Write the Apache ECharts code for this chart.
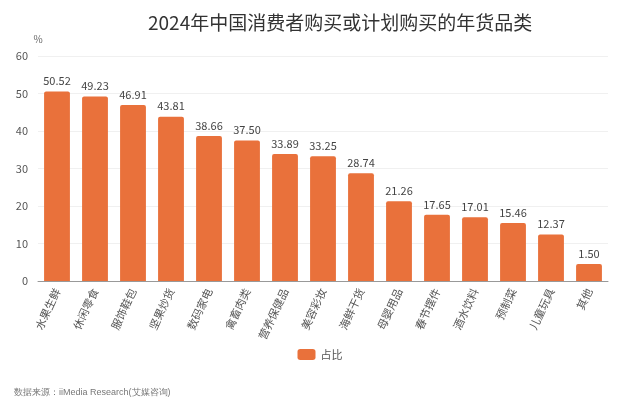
<!DOCTYPE html>
<html>
<head>
<meta charset="utf-8">
<script src="https://cdn.jsdelivr.net/npm/echarts@6/dist/echarts.min.js"></script>
<style>
html,body{margin:0;padding:0;background:#fff;}
#main{width:640px;height:406px;}
</style>
</head>
<body>
<div id="main"></div>
<script>
let categories = ['水果生鲜','休闲零食','服饰鞋包','坚果炒货','数码家电','禽畜肉类','营养保健品','美容彩妆','海鲜干货','母婴用品','春节摆件','酒水饮料','预制菜','儿童玩具','其他'];
let shares = [50.52, 49.23, 46.91, 43.81, 38.66, 37.50, 33.89, 33.25, 28.74, 21.26, 17.65, 17.01, 15.46, 12.37, 1.50];
let yTicks = [0, 10, 20, 30, 40, 50, 60];

window.addEventListener('load', function () {
    let chart = echarts.init(document.getElementById('main'));
    let option = {
        textStyle: {fontFamily: 'Noto Sans CJK SC'},
        title: {
            text: '2024年中国消费者购买或计划购买的年货品类',
            left: 143,
            top: 8,
            textStyle: {fontSize: 19, fontWeight: 'normal', color: '#333'}
        },
        legend: {
            data: ['占比'],
            left: 'center',
            top: 344,
            itemWidth: 18,
            itemHeight: 11,
            textStyle: {fontSize: 11, color: '#555'}
        },
        graphic: [{
            type: 'text',
            left: 14,
            top: 388,
            style: {text: '数据来源：iiMedia Research(艾媒咨询)', fontSize: 9, fill: '#777'}
        }],
        grid: {left: 38, right: 32, top: 56, bottom: 125},
        xAxis: {
            type: 'category',
            data: categories,
            axisTick: {show: false},
            axisLine: {lineStyle: {color: '#999'}},
            axisLabel: {rotate: 65, fontSize: 11, color: '#555', interval: 0, margin: 8}
        },
        yAxis: {
            type: 'value',
            name: '%',
            nameGap: 12,
            nameTextStyle: {color: '#666', fontSize: 10, align: 'center'},
            min: yTicks[0],
            max: yTicks[yTicks.length - 1],
            interval: 10,
            axisLabel: {color: '#555', fontSize: 11, margin: 10},
            splitLine: {lineStyle: {color: '#f0f0f0'}}
        },
        series: [{
            name: '占比',
            type: 'bar',
            data: shares,
            barWidth: '68%',
            barMinHeight: 17,
            itemStyle: {color: '#E9713B', borderRadius: [2, 2, 0, 0]},
            label: {
                show: true,
                position: 'top',
                fontSize: 11,
                color: '#444',
                formatter: function (p) { return p.value.toFixed(2); }
            }
        }]
    };
    chart.setOption(option);
}, false);
</script>
</body>
</html>
